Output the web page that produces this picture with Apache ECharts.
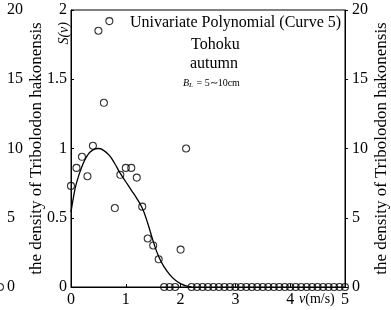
<!DOCTYPE html>
<html>
<head>
<meta charset="utf-8">
<script src="https://cdn.jsdelivr.net/npm/echarts@6/dist/echarts.min.js"></script>
<style>
  html, body { margin: 0; padding: 0; background: #fff; }
  #chart { width: 391px; height: 310px; }
</style>
</head>
<body>
<div id="chart"></div>
<script>
  // observed S(v) against current speed v (m/s)
  const speeds = [
    0, 0.1, 0.2, 0.3, 0.4, 0.5, 0.6, 0.7, 0.8, 0.9,
    1.0, 1.1, 1.2, 1.3, 1.4, 1.5, 1.6, 1.7, 1.8, 1.9,
    2.0, 2.1, 2.2, 2.3, 2.4, 2.5, 2.6, 2.7, 2.8, 2.9,
    3.0, 3.1, 3.2, 3.3, 3.4, 3.5, 3.6, 3.7, 3.8, 3.9,
    4.0, 4.1, 4.2, 4.3, 4.4, 4.5, 4.6, 4.7, 4.8, 4.9, 5.0,
  ];
  const sValues = [
    0.73, 0.86, 0.94, 0.80, 1.02, 1.85, 1.33, 1.92, 0.57, 0.81,
    0.86, 0.86, 0.79, 0.58, 0.35, 0.30, 0.20, 0, 0, 0,
    0.27, 1.00, 0, 0, 0, 0, 0, 0, 0, 0,
    0, 0, 0, 0, 0, 0, 0, 0, 0, 0,
    0, 0, 0, 0, 0, 0, 0, 0, 0, 0, 0,
  ];

  // fitted polynomial (curve 5)
  const curveX = [0, 0.05, 0.1, 0.2, 0.3, 0.4, 0.5, 0.6, 0.7, 0.8, 0.9, 1.0, 1.1, 1.2, 1.3, 1.4, 1.5, 1.6, 1.7, 1.8, 1.9, 2.0, 2.1, 2.2];
  const curveY = [0.54, 0.66, 0.75, 0.87, 0.95, 0.99, 1.0, 0.985, 0.95, 0.89, 0.82, 0.76, 0.70, 0.64, 0.57, 0.46, 0.33, 0.22, 0.145, 0.09, 0.05, 0.025, 0.008, 0];

  // neighbouring panel, only its last point shows at the left edge
  const neighbourX = [5];
  const neighbourY = [0];

  const speedTicks = [0, 1, 2, 3, 4, 5];
  const sTicks = [0, 0.5, 1, 1.5, 2];
  const densityTicks = [0, 5, 10, 15, 20];

  const serif = 'Liberation Serif';
  const ink = '#000';
  const densityName = 'the density of Tribolodon hakonensis';

  const chart = echarts.init(document.getElementById('chart'));

  const densityAxis = (gridIndex) => ({
    gridIndex,
    type: 'value',
    position: 'right',
    min: densityTicks[0],
    max: densityTicks[densityTicks.length - 1],
    interval: densityTicks[1] - densityTicks[0],
    axisLine: { show: true, lineStyle: { color: ink, width: 1 } },
    axisTick: { show: true, inside: false, length: 3, lineStyle: { color: ink } },
    axisLabel: { color: ink, fontFamily: serif, fontSize: 16, margin: 7 },
    splitLine: { show: false },
    name: densityName,
    nameLocation: 'middle',
    nameRotate: 90,
    nameGap: 28,
    nameMoveOverlap: false,
    nameTextStyle: { color: ink, fontFamily: serif, fontSize: 17 },
  });

  const textStyle = { color: ink, fontFamily: serif, fontSize: 16, fontWeight: 'normal' };

  const option = {
    animation: false,
    backgroundColor: '#fff',
    title: [
      { text: 'Univariate Polynomial (Curve 5)', left: 130, top: 15, padding: 0, textStyle },
      { text: 'Tohoku', left: 191, top: 37, padding: 0, textStyle },
      { text: 'autumn', left: 190, top: 56, padding: 0, textStyle },
      {
        text: '{b|B}{l|L}{n| = 5∼10cm}',
        left: 183,
        top: 77,
        padding: 0,
        textStyle: {
          color: ink,
          fontFamily: serif,
          fontSize: 10,
          fontWeight: 'normal',
          rich: {
            b: { fontFamily: serif, fontSize: 10, fontStyle: 'italic', fontWeight: 'normal', color: ink },
            l: { fontFamily: serif, fontSize: 7, fontStyle: 'italic', fontWeight: 'normal', color: ink, padding: [5, 1, 0, 0] },
            n: { fontFamily: serif, fontSize: 10, fontWeight: 'normal', color: ink },
          },
        },
      },
    ],
    grid: [
      { left: 71, right: 46, top: 10, bottom: 23, show: true, borderColor: ink, borderWidth: 1, outerBoundsMode: 'none', containLabel: false },
      { left: -300, width: 300, top: 10, bottom: 23, outerBoundsMode: 'none', containLabel: false },
    ],
    xAxis: [
      {
        gridIndex: 0,
        type: 'value',
        min: speedTicks[0],
        max: speedTicks[speedTicks.length - 1],
        interval: speedTicks[1] - speedTicks[0],
        axisLine: { show: true, lineStyle: { color: ink, width: 1 } },
        axisTick: { show: true, inside: true, length: 3, lineStyle: { color: ink } },
        axisLabel: { color: ink, fontFamily: serif, fontSize: 16, margin: 5 },
        splitLine: { show: false },
        name: '{v|v}(m/s)',
        nameLocation: 'end',
        nameGap: -46,
        nameMoveOverlap: false,
        nameTextStyle: {
          color: ink,
          fontFamily: serif,
          fontSize: 14,
          align: 'left',
          verticalAlign: 'top',
          padding: [5, 0, 0, 0],
          rich: { v: { fontFamily: serif, fontSize: 14, fontStyle: 'italic', color: ink } },
        },
      },
      { gridIndex: 1, type: 'value', min: 0, max: 5, show: false },
    ],
    yAxis: [
      {
        gridIndex: 0,
        type: 'value',
        position: 'left',
        min: sTicks[0],
        max: sTicks[sTicks.length - 1],
        interval: sTicks[1] - sTicks[0],
        axisLine: { show: true, lineStyle: { color: ink, width: 1 } },
        axisTick: { show: true, inside: true, length: 3, lineStyle: { color: ink } },
        axisLabel: { color: ink, fontFamily: serif, fontSize: 16, margin: 4 },
        splitLine: { show: false },
        name: 'S(v)',
        nameLocation: 'end',
        nameRotate: 90,
        nameGap: -12,
        nameMoveOverlap: false,
        nameTextStyle: { color: ink, fontFamily: serif, fontSize: 14, fontStyle: 'italic', align: 'right', verticalAlign: 'bottom' },
      },
      densityAxis(0),
      densityAxis(1),
    ],
    series: [
      {
        type: 'line',
        xAxisIndex: 0,
        yAxisIndex: 0,
        data: curveX.map((x, i) => [x, curveY[i]]),
        smooth: true,
        showSymbol: false,
        lineStyle: { color: ink, width: 1.3 },
        z: 2,
      },
      {
        type: 'scatter',
        xAxisIndex: 0,
        yAxisIndex: 0,
        data: speeds.map((x, i) => [x, sValues[i]]),
        symbol: 'circle',
        symbolSize: 7,
        itemStyle: { color: 'rgba(0,0,0,0)', borderColor: ink, borderWidth: 1.1 },
        clip: false,
        z: 3,
      },
      {
        type: 'scatter',
        xAxisIndex: 1,
        yAxisIndex: 2,
        data: neighbourX.map((x, i) => [x, neighbourY[i]]),
        symbol: 'circle',
        symbolSize: 7,
        itemStyle: { color: 'rgba(0,0,0,0)', borderColor: ink, borderWidth: 1.1 },
        clip: false,
      },
    ],
  };

  chart.setOption(option);
</script>
</body>
</html>
